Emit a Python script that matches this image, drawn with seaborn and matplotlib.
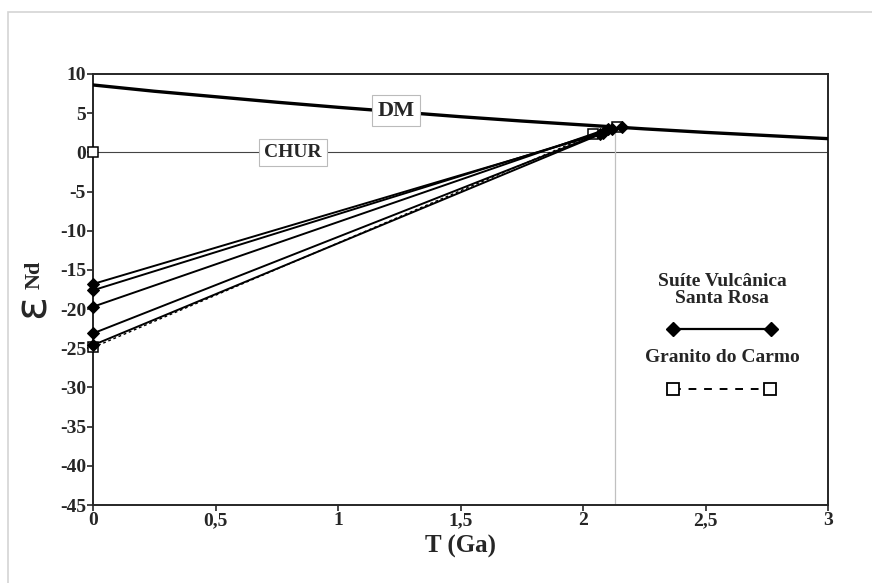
import matplotlib
matplotlib.use("Agg")
import matplotlib.pyplot as plt
import seaborn as sns
import pandas as pd
from matplotlib.lines import Line2D
from matplotlib.patches import Rectangle

sns.set_style("ticks")
plt.rcParams.update({
    "font.family": ["Liberation Serif", "DejaVu Serif"],
    "font.weight": "bold",
    "axes.unicode_minus": False,
})

# ── Data ─────────────────────────────────────────────────────────────────────
dm_t = [0, 0.25, 0.5, 0.75, 1.0, 1.25, 1.5, 1.75, 2.0, 2.25, 2.5, 2.75, 3.0]
dm_eps = [8.6, 7.8, 7.1, 6.4, 5.75, 5.15, 4.55, 4.0, 3.5, 3.0, 2.55, 2.15, 1.75]

svsr_id = ["a", "a", "b", "b", "c", "c", "d", "d", "e", "e"]
svsr_t = [0, 2.16, 0, 2.12, 0, 2.10, 0, 2.08, 0, 2.07]
svsr_eps = [-16.8, 3.2, -17.6, 3.0, -19.7, 3.0, -23.1, 2.5, -24.6, 2.3]

gc_t = [0, 2.04]
gc_eps = [-24.9, 2.3]
gc_extra_t = [0, 2.14]
gc_extra_eps = [0, 3.2]

t_dm_line = 2.13
chur_t = [0, 3]
chur_eps = [0, 0]

dm_df = pd.DataFrame({"T": dm_t, "eps": dm_eps})
svsr_df = pd.DataFrame({"sample": svsr_id, "T": svsr_t, "eps": svsr_eps})
gc_df = pd.DataFrame({"T": gc_t, "eps": gc_eps})

# ── Figure ───────────────────────────────────────────────────────────────────
fig = plt.figure(figsize=(8.72, 5.83), dpi=100)
ax = fig.add_axes([93 / 872, 1 - 505 / 583, (828 - 93) / 872, (505 - 74) / 583])

fig.add_artist(Rectangle((8 / 872, -0.1), 1.2, 1 - 12 / 583 + 0.1,
                         transform=fig.transFigure, fill=False,
                         edgecolor="#d4d4d4", linewidth=1.2))

ax.plot(chur_t, chur_eps, color="#444444", linewidth=0.8, zorder=1)
ax.plot([t_dm_line, t_dm_line], [-45, 3], color="#c0c0c0", linewidth=0.9, zorder=1)

sns.lineplot(data=dm_df, x="T", y="eps", color="black", linewidth=2.4,
             ax=ax, zorder=3)
sns.lineplot(data=gc_df, x="T", y="eps", color="black", linewidth=1.0,
             linestyle=(0, (2, 2)), marker="s", markersize=7,
             markerfacecolor="white", markeredgecolor="black",
             markeredgewidth=1.1, ax=ax, zorder=4, clip_on=False)
ax.plot(gc_extra_t, gc_extra_eps, linestyle="none", marker="s", markersize=7,
        markerfacecolor="white", markeredgecolor="black",
        markeredgewidth=1.1, zorder=4, clip_on=False)
sns.lineplot(data=svsr_df, x="T", y="eps", units="sample", estimator=None,
             color="black", linewidth=1.4, marker="D", markersize=6.5,
             markeredgecolor="black", ax=ax, zorder=5, clip_on=False)

box = dict(boxstyle="square,pad=0.25", facecolor="white", edgecolor="#bbbbbb",
           linewidth=0.8)
ax.text(1.237, 5.3, "DM", ha="center", va="center", fontsize=16,
        fontweight="bold", bbox=box, zorder=6)
ax.text(0.816, 0, "CHUR", ha="center", va="center", fontsize=14,
        fontweight="bold", bbox=box, zorder=6)

ax.set_xlim(0, 3)
ax.set_ylim(-45, 10)
ax.set_xticks([0, 0.5, 1, 1.5, 2, 2.5, 3])
ax.set_xticklabels(["0", "0,5", "1", "1,5", "2", "2,5", "3"])
ax.set_yticks(range(-45, 11, 5))
ax.tick_params(axis="both", direction="out", length=4, width=1.2,
               labelsize=14, pad=1)
for lab in ax.get_xticklabels() + ax.get_yticklabels():
    lab.set_fontweight("bold")
for sp in ax.spines.values():
    sp.set_linewidth(1.4)
    sp.set_visible(True)

ax.set_xlabel("T (Ga)", fontsize=18, fontweight="bold", labelpad=4)
ax.set_ylabel("")
# y label: large epsilon with "Nd" subscript, rotated
fig.text(32 / 872, 1 - 306 / 583, "ε", rotation=90, ha="center", va="center",
         fontsize=32, fontweight="normal", family="DejaVu Sans")
fig.text(35 / 872, 1 - 275 / 583, "Nd", rotation=90, ha="center", va="center",
         fontsize=16, fontweight="bold")

# legend drawn by hand (labels sit above their symbols)
fig.text(722 / 872, 1 - 290 / 583, "Suíte Vulcânica\nSanta Rosa", ha="center",
         va="center", fontsize=14, fontweight="bold", linespacing=1.0)
fig.add_artist(Line2D([673 / 872, 771 / 872], [1 - 329 / 583] * 2,
                      transform=fig.transFigure, color="black", linewidth=1.6,
                      marker="D", markersize=7))
fig.text(722 / 872, 1 - 358 / 583, "Granito do Carmo", ha="center",
         va="center", fontsize=14, fontweight="bold")
fig.add_artist(Line2D([673 / 872, 770 / 872], [1 - 389 / 583] * 2,
                      transform=fig.transFigure, color="black", linewidth=1.4,
                      linestyle=(0, (4, 4)), marker="s", markersize=9,
                      markerfacecolor="white", markeredgewidth=1.3))

fig.savefig("out.png", dpi=100)
